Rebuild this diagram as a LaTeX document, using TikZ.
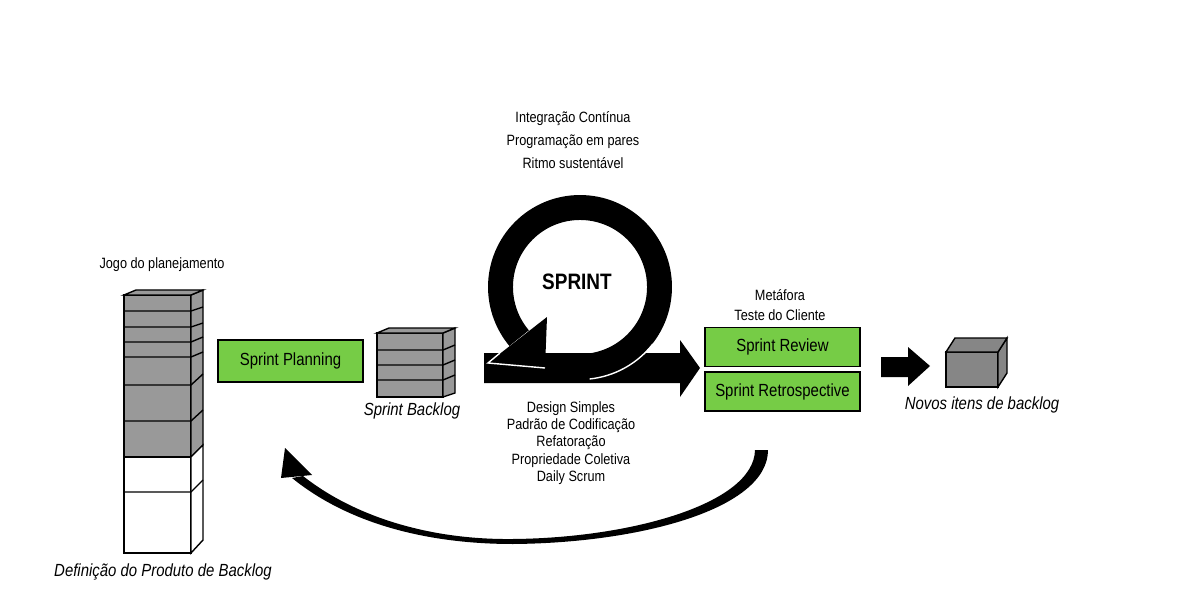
\documentclass[tikz,border=0pt]{standalone}
\usepackage{fontspec}
\setmainfont{Liberation Sans}[FakeStretch=0.85]
\definecolor{sprintgreen}{RGB}{118,204,70}

\begin{document}
\begin{tikzpicture}[
  x=0.02cm, y=0.02cm,
  every node/.style={font=\fontsize{8.5}{13}\selectfont},
  face/.style={draw, line width=0.8pt, fill=gray!80},
  greenbox/.style={draw, line width=0.8pt, fill=sprintgreen, inner sep=0pt,
    minimum width=3.1cm, minimum height=0.78cm, font=\fontsize{10}{12}\selectfont},
  caption/.style={font=\fontsize{10}{12}\selectfont\itshape}
  ]
\useasboundingbox (0,0) rectangle (1183,599);
% product backlog
\draw [face] (124,142) rectangle (191,304);
\draw [face] (191,142) -- (191,304) -- (203,309) -- (203,154) -- cycle;
\draw [face] (124,304) -- (136,309) -- (203,309) -- (191,304) -- cycle;
\draw [face, fill=white] (124,46) rectangle (191,142);
\draw [face, fill=white] (191,46) -- (191,142) -- (203,154) -- (203,59) -- cycle;
\draw [line width=0.8pt] (124,288) -- (191,288) -- (203,292);
\draw [line width=0.8pt] (124,272) -- (191,272) -- (203,276);
\draw [line width=0.8pt] (124,257) -- (191,257) -- (203,262);
\draw [line width=0.8pt] (124,242) -- (191,242) -- (203,247);
\draw [line width=0.8pt] (124,214) -- (191,214) -- (203,225);
\draw [line width=0.8pt] (124,178) -- (191,178) -- (203,189);
\draw [line width=0.8pt] (124,107) -- (191,107) -- (203,119);
\node (jogo) at (162,334) {Jogo do planejamento};
\node [caption] (defprod) at (163,27) {Definição do Produto de Backlog};
% sprint backlog
\node [greenbox, minimum width=2.9cm, minimum height=0.84cm] (planning) at (290.5,238) {Sprint Planning};
\draw [face] (377,202) rectangle (443,266);
\draw [face] (443,202) -- (443,266) -- (455,271) -- (455,206) -- cycle;
\draw [face] (377,266) -- (389,271) -- (455,271) -- (443,266) -- cycle;
\draw [line width=0.8pt] (377,249) -- (443,249) -- (455,254);
\draw [line width=0.8pt] (377,234) -- (443,234) -- (455,239);
\draw [line width=0.8pt] (377,219) -- (443,219) -- (455,224);
\node [caption] (sbacklog) at (412,188) {Sprint Backlog};
% sprint cycle
\fill (484,216) -- (680,216) -- (680,202) -- (700,231) -- (680,259) -- (680,246) -- (484,246) -- cycle;
\draw [line width=14.2pt] (580,312) ++(-90:79.5) arc (-90:220:79.5);
\draw [white, line width=0.8pt] (580,312) ++(-84:92.5) arc (-84:-38:92.5);
\fill (547,282) -- (545,231) -- (488,236) -- cycle;
\draw [white, line width=0.8pt] (500,246) -- (488,236) -- (545,231);
\node [font=\fontsize{12.7}{14}\selectfont\bfseries] (sprint) at (577,317) {SPRINT};
\node [align=center] (topxp) at (573,459) {Integração Contínua\\Programação em pares\\Ritmo sustentável};
\node [align=center, font=\fontsize{8.5}{9.9}\selectfont] (botxp) at (571,156) {Design Simples\\Padrão de Codificação\\Refatoração\\Propriedade Coletiva\\Daily Scrum};
% review and retrospective
\node [align=center, font=\fontsize{8.5}{11.3}\selectfont] (meta) at (780,294) {Metáfora\\Teste do Cliente};
\node [greenbox] (review) at (782.5,252) {Sprint Review};
\node [greenbox] (retro) at (782.5,207.5) {Sprint Retrospective};
% new items
\fill (881,222) -- (908,222) -- (908,213) -- (930,233) -- (908,252) -- (908,242) -- (881,242) -- cycle;
\draw [face, fill=gray!95] (946,212) rectangle (998,247);
\draw [face, fill=gray!95] (998,212) -- (998,247) -- (1007,261) -- (1007,226) -- cycle;
\draw [face, fill=gray!95] (946,247) -- (955,261) -- (1007,261) -- (998,247) -- cycle;
\node [caption] (novos) at (982,194) {Novos itens de backlog};
% back to planning
\fill (292,121) .. controls (350,74) and (430,55) .. (513,55) .. controls (640,56) and (768,90) .. (768,149)
  -- (755,149) .. controls (754,95) and (630,61) .. (513,60) .. controls (430,59) and (355,82) .. (303,123) -- cycle;
\fill (285,151) -- (281,121) -- (312,124) -- cycle;
\end{tikzpicture}
\end{document}
